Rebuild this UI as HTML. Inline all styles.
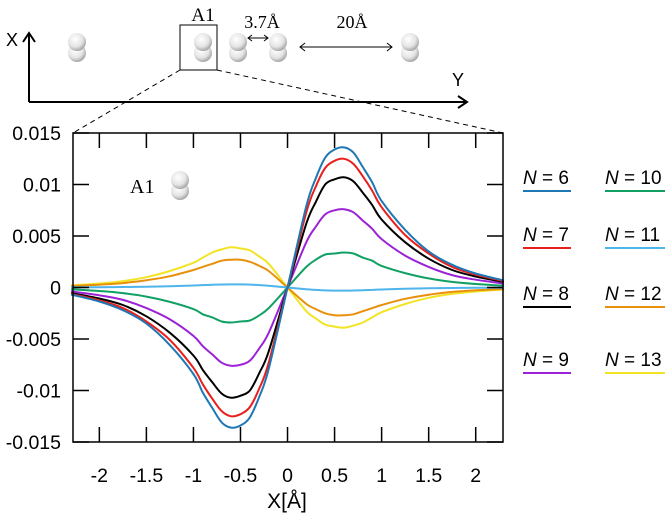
<!DOCTYPE html>
<html><head><meta charset="utf-8"><style>
body{margin:0;background:#fff}
svg{display:block;font-family:"Liberation Sans",sans-serif}
</style></head><body>
<svg id="chart" width="666" height="516" viewBox="0 0 666 516">
<defs>
<radialGradient id="sph" cx="0.4" cy="0.35" r="0.7"><stop offset="0" stop-color="#fff"/><stop offset="0.6" stop-color="#e4e4e4"/><stop offset="1" stop-color="#9a9a9a"/></radialGradient>
</defs>
<g id="schematic" stroke="#000" fill="none">
<path d="M29,102 L29,33 M23,42 L29,33 L35,42" stroke-width="2"/>
<path d="M29,102 L467,102 M458,96 L467,102 L458,108" stroke-width="2"/>
<rect x="180" y="25" width="37" height="45" stroke-width="1"/>
<path d="M180,70 L73,133" stroke-dasharray="5,4"/>
<path d="M217,70 L503,133" stroke-dasharray="5,4"/>
<path d="M248,38 L268,38 M252,35 L248,38 L252,41 M264,35 L268,38 L264,41"/>
<path d="M300,47 L392,47 M305,43 L300,47 L305,51 M387,43 L392,47 L387,51"/>
</g>
<g id="mols" stroke="none"></g>
<text x="6" y="46" font-size="18">X</text>
<text x="452" y="86" font-size="18">Y</text>
<text x="203" y="21" font-size="19" text-anchor="middle" font-family="Liberation Serif, serif">A1</text>
<text x="262" y="28" font-size="18" text-anchor="middle" font-family="Liberation Serif, serif">3.7Å</text>
<text x="352" y="28" font-size="18" text-anchor="middle" font-family="Liberation Serif, serif">20Å</text>
<text x="130" y="193" font-size="20" font-family="Liberation Serif, serif">A1</text>
<g id="plot"></g>
<text x="287" y="508" font-size="21" text-anchor="middle">X[Å]</text>
<g id="legend"></g>
</svg>
<script>
const xs=[-2.3,-2,-1.75,-1.5,-1.25,-1,-0.9,-0.8,-0.7,-0.6,-0.5,-0.4,-0.3,-0.2,0,0.2,0.3,0.4,0.5,0.6,0.7,0.8,0.9,1,1.25,1.5,1.75,2,2.3];
const n6=[-0.00068,-0.00136,-0.0022,-0.0035,-0.0056,-0.0084,-0.0102,-0.0117,-0.0131,-0.0136,-0.0134,-0.0126,-0.0106,-0.0079,0,0.0079,0.0106,0.0126,0.0134,0.0136,0.0131,0.0117,0.0102,0.0084,0.0056,0.0035,0.0022,0.00136,0.00068];
const n7=[-0.00063,-0.00125,-0.002,-0.0033,-0.0051,-0.0078,-0.0094,-0.0108,-0.012,-0.0125,-0.0123,-0.0116,-0.0098,-0.0073,0,0.0073,0.0098,0.0116,0.0123,0.0125,0.012,0.0108,0.0094,0.0078,0.0051,0.0033,0.002,0.00125,0.00063];
const n8=[-0.00054,-0.00107,-0.0017,-0.0028,-0.0044,-0.0066,-0.008,-0.0092,-0.0103,-0.0107,-0.0105,-0.01,-0.0083,-0.0062,0,0.0062,0.0083,0.01,0.0105,0.0107,0.0103,0.0092,0.008,0.0066,0.0044,0.0028,0.0017,0.00107,0.00054];
const n9=[-0.00038,-0.00076,-0.0012,-0.002,-0.0031,-0.0047,-0.0057,-0.0065,-0.0073,-0.0076,-0.0075,-0.0071,-0.0059,-0.0044,0,0.0044,0.0059,0.0071,0.0075,0.0076,0.0073,0.0065,0.0057,0.0047,0.0031,0.002,0.0012,0.00076,0.00038];
const n10=[-0.00017,-0.00034,-0.00054,-0.00088,-0.0014,-0.0021,-0.0026,-0.0029,-0.0033,-0.0034,-0.0033,-0.0032,-0.0027,-0.002,0,0.002,0.0027,0.0032,0.0033,0.0034,0.0033,0.0029,0.0026,0.0021,0.0014,0.00088,0.00054,0.00034,0.00017];
const n11=[0.00002,0.00003,0.00005,0.00008,0.00012,0.00019,0.00023,0.00026,0.00029,0.0003,0.0003,0.00028,0.00023,0.00017,0,-0.00017,-0.00023,-0.00028,-0.0003,-0.0003,-0.00029,-0.00026,-0.00023,-0.00019,-0.00012,-0.00008,-0.00005,-0.00003,-0.00002];
const n12=[0.00014,0.00027,0.00043,0.0007,0.0011,0.0017,0.002,0.0023,0.0026,0.0027,0.0027,0.0025,0.0021,0.0016,0,-0.0016,-0.0021,-0.0025,-0.0027,-0.0027,-0.0026,-0.0023,-0.002,-0.0017,-0.0011,-0.0007,-0.00043,-0.00027,-0.00014];
const n13=[0.0002,0.00039,0.00062,0.001,0.0016,0.0024,0.0029,0.0034,0.0037,0.0039,0.0038,0.0036,0.003,0.0023,0,-0.0023,-0.003,-0.0036,-0.0038,-0.0039,-0.0037,-0.0034,-0.0029,-0.0024,-0.0016,-0.001,-0.00062,-0.00039,-0.0002];
const seriesNames=["N = 6","N = 7","N = 8","N = 9","N = 10","N = 11","N = 12","N = 13"];
const yTicks=[0.015,0.01,0.005,0,-0.005,-0.01,-0.015];
const yTickLabels=["0.015","0.01","0.005","0","-0.005","-0.01","-0.015"];
const xTicks=[-2,-1.5,-1,-0.5,0,0.5,1,1.5,2];
const xTickLabels=["-2","-1.5","-1","-0.5","0","0.5","1","1.5","2"];
const NS="http://www.w3.org/2000/svg";
const L=73,R=503,T=133,B=442,xmin=-2.28,xmax=2.29,ymin=-0.015,ymax=0.015;
const sx=v=>L+(v-xmin)/(xmax-xmin)*(R-L);
const sy=v=>B-(v-ymin)/(ymax-ymin)*(B-T);
function mk(tag,attrs,parent){const e=document.createElementNS(NS,tag);for(const k in attrs)e.setAttribute(k,attrs[k]);parent.appendChild(e);return e;}
const mols=document.getElementById('mols');
[[77,47],[203,47],[238,47],[278,47],[410,47],[180,185]].forEach(([cx,cy])=>{
 const g=mk('g',{},mols);
 
 
 mk('ellipse',{cx:cx,cy:cy+6,rx:9,ry:9,fill:'url(#sph)'},g);
 mk('ellipse',{cx:cx,cy:cy-5,rx:9,ry:9,fill:'url(#sph)'},g);
});
function smooth(pts){
 let d='M'+pts[0][0].toFixed(1)+','+pts[0][1].toFixed(1);
 for(let i=0;i<pts.length-1;i++){
  const p0=pts[i-1]||pts[i],p1=pts[i],p2=pts[i+1],p3=pts[i+2]||p2;
  const c1=[p1[0]+(p2[0]-p0[0])/6,p1[1]+(p2[1]-p0[1])/6];
  const c2=[p2[0]-(p3[0]-p1[0])/6,p2[1]-(p3[1]-p1[1])/6];
  d+=` C${c1[0].toFixed(1)},${c1[1].toFixed(1)} ${c2[0].toFixed(1)},${c2[1].toFixed(1)} ${p2[0].toFixed(1)},${p2[1].toFixed(1)}`;
 }
 return d;
}
const plot=document.getElementById('plot');
const colors=["#1f77b4","#e8201c","#000000","#9b22d6","#10a064","#4fb3ec","#e8900c","#f2e424"];
const series=[n6,n7,n8,n9,n10,n11,n12,n13];
for(let s=series.length-1;s>=0;s--){
 const d=smooth(xs.map((x,i)=>[sx(x),sy(series[s][i])]));
 const p=mk('path',{d:d,fill:'none',stroke:colors[s],'stroke-width':2,'stroke-linejoin':'round'},plot);
 
 
}
const frame=mk('rect',{x:L,y:T,width:R-L,height:B-T,fill:'none',stroke:'#000','stroke-width':1.5},plot);


yTicks.forEach((v,i)=>{
 const y=sy(v);
 const t=mk('path',{d:`M${L},${y} L${L+16},${y} M${R},${y} L${R-16},${y}`,stroke:'#000','stroke-width':1.5},plot);
 
 
 const lb=mk('text',{x:L-12,y:y+7,'font-size':19.5,'text-anchor':'end'},plot);
 lb.textContent=yTickLabels[i];
 
 
});
xTicks.forEach((v,i)=>{
 const x=sx(v);
 const t=mk('path',{d:`M${x},${B} L${x},${B-15} M${x},${T} L${x},${T+15}`,stroke:'#000','stroke-width':1.5},plot);
 
 
 const lb=mk('text',{x:x,y:482,'font-size':19.5,'text-anchor':'middle'},plot);
 lb.textContent=xTickLabels[i];
 
 
});
const leg=document.getElementById('legend');
const rowsY=[184,241,300,366];
seriesNames.forEach((nm,i)=>{
 const col=i<4?0:1, row=i%4;
 const x=col?605:523, y=rowsY[row];
 const g=mk('g',{},leg);
 
 
 const t=mk('text',{x:x,y:y,'font-size':19},g);
 const it=mk('tspan',{'font-style':'italic'},t);it.textContent='N';
 const rest=mk('tspan',{},t);rest.textContent=nm.slice(1);
 mk('line',{x1:x,x2:x+(col?60:48),y1:y+7,y2:y+7,stroke:colors[i],'stroke-width':2},g);
});
</script>
</body></html>
